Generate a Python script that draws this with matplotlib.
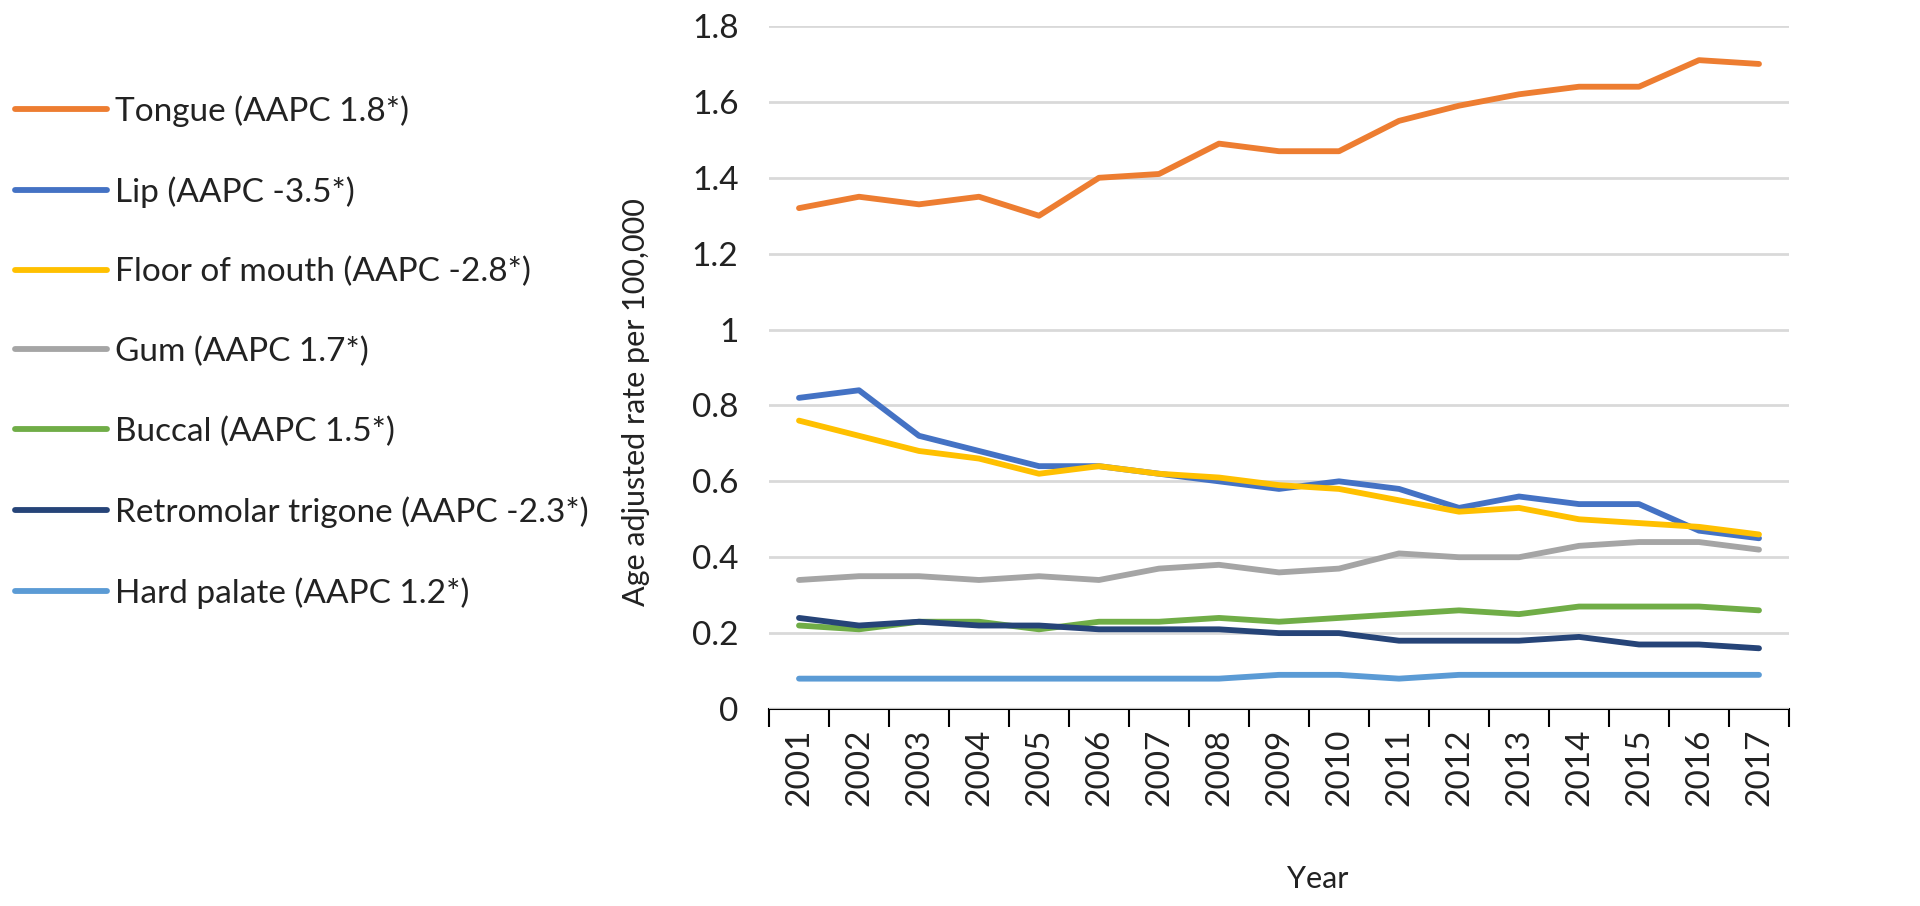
import numpy as np
import matplotlib.pyplot as plt

years = [str(y) for y in range(2001, 2018)]

tongue = [1.32, 1.35, 1.33, 1.35, 1.30, 1.40, 1.41, 1.49, 1.47, 1.47, 1.55, 1.59, 1.62, 1.64, 1.64, 1.71, 1.70]
lip = [0.82, 0.84, 0.72, 0.68, 0.64, 0.64, 0.62, 0.60, 0.58, 0.60, 0.58, 0.53, 0.56, 0.54, 0.54, 0.47, 0.45]
floor_mouth = [0.76, 0.72, 0.68, 0.66, 0.62, 0.64, 0.62, 0.61, 0.59, 0.58, 0.55, 0.52, 0.53, 0.50, 0.49, 0.48, 0.46]
gum = [0.34, 0.35, 0.35, 0.34, 0.35, 0.34, 0.37, 0.38, 0.36, 0.37, 0.41, 0.40, 0.40, 0.43, 0.44, 0.44, 0.42]
buccal = [0.22, 0.21, 0.23, 0.23, 0.21, 0.23, 0.23, 0.24, 0.23, 0.24, 0.25, 0.26, 0.25, 0.27, 0.27, 0.27, 0.26]
retromolar = [0.24, 0.22, 0.23, 0.22, 0.22, 0.21, 0.21, 0.21, 0.20, 0.20, 0.18, 0.18, 0.18, 0.19, 0.17, 0.17, 0.16]
hard_palate = [0.08, 0.08, 0.08, 0.08, 0.08, 0.08, 0.08, 0.08, 0.09, 0.09, 0.08, 0.09, 0.09, 0.09, 0.09, 0.09, 0.09]

labels = ['Tongue (AAPC 1.8*)', 'Lip (AAPC -3.5*)', 'Floor of mouth (AAPC -2.8*)',
          'Gum (AAPC 1.7*)', 'Buccal (AAPC 1.5*)', 'Retromolar trigone (AAPC -2.3*)',
          'Hard palate (AAPC 1.2*)']
colors = ['#ED7D31', '#4472C4', '#FFC000', '#A5A5A5', '#70AD47', '#264478', '#5B9BD5']
series = [tongue, lip, floor_mouth, gum, buccal, retromolar, hard_palate]

plt.rcParams['font.family'] = ['Lato', 'DejaVu Sans']

fig = plt.figure(figsize=(19.2, 9.06), dpi=100)
ax = fig.add_axes([769/1920, 1-709/906, (1789-769)/1920, (709-26)/906])

x = np.arange(len(years))
handles = []
for vals, lab, c in zip(series, labels, colors):
    h, = ax.plot(x, vals, color=c, lw=4.2, solid_capstyle='round', solid_joinstyle='round', label=lab)
    handles.append(h)

ax.set_xlim(-0.5, len(years) - 0.5)
ax.set_ylim(0, 1.8)
ax.set_yticks(np.arange(0, 1.81, 0.2))
ax.set_yticklabels(['0', '0.2', '0.4', '0.6', '0.8', '1', '1.2', '1.4', '1.6', '1.8'])
ax.set_xticks(x)
ax.set_xticklabels(years, rotation=90)
ax.set_xticks(np.arange(-0.5, len(years), 1), minor=True)
ax.tick_params(axis='x', which='major', length=0, labelsize=24, pad=14, colors='#222222')
ax.tick_params(axis='x', which='minor', length=13, width=1.5, color='black')
ax.tick_params(axis='y', length=0, labelsize=24, pad=22, colors='#222222')

ax.grid(axis='y', color='#d9d9d9', lw=2)
ax.set_axisbelow(True)
for s in ['top', 'right', 'left']:
    ax.spines[s].set_visible(False)
ax.spines['bottom'].set_linewidth(1.5)
ax.spines['bottom'].set_zorder(0.5)

fig.text(636/1920, 1-402/906, 'Age adjusted rate per 100,000', rotation=90,
         ha='center', va='center', fontsize=22, color='#222222')
fig.text(1318/1920, 1-879/906, 'Year', ha='center', va='center', fontsize=22, color='#222222')

fig.legend(handles=handles, loc='upper left', bbox_to_anchor=(15/1920, 1-95/906),
           frameon=False, fontsize=24, handlelength=2.76, handletextpad=0.24,
           labelspacing=1.48, borderaxespad=0, borderpad=0, labelcolor='#222222')

fig.savefig('out.png', dpi=100)
